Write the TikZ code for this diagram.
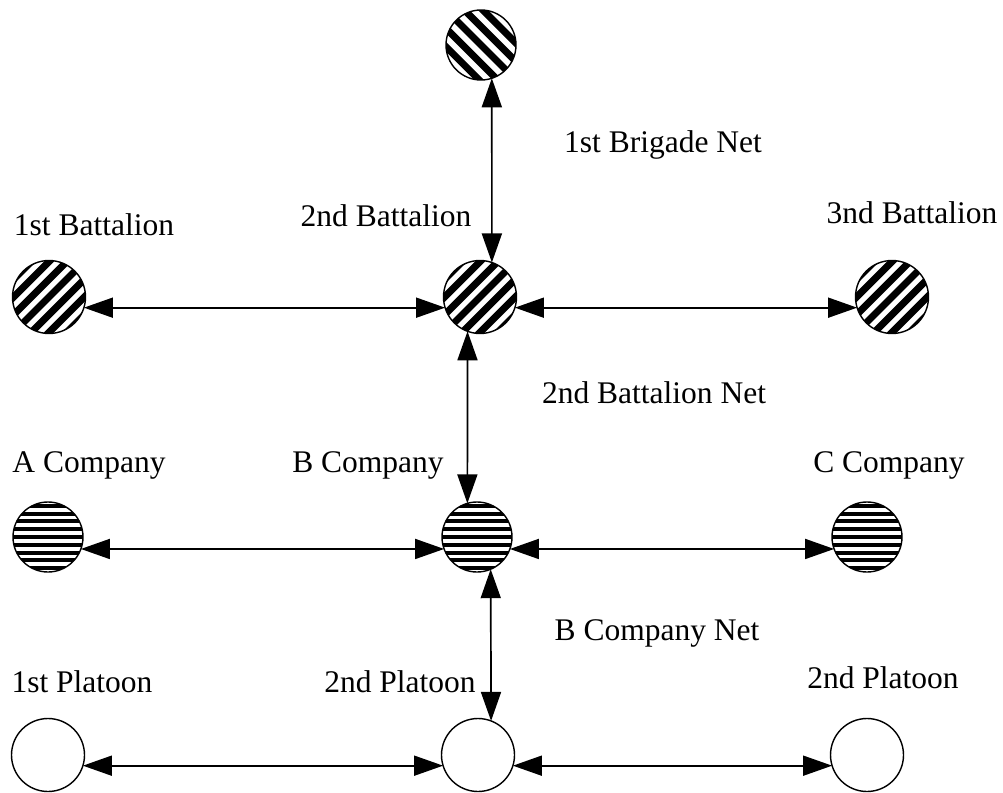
\documentclass[tikz,border=0pt]{standalone}
\usepackage{fontspec}
\setmainfont{Liberation Serif}
\usetikzlibrary{arrows.meta}
\begin{document}
\begin{tikzpicture}[x=1pt,y=-1pt,
  unit/.style={circle,draw,line width=1.4pt,minimum size=#1,inner sep=0pt,outer sep=0pt},
  brig/.style={unit=70pt, path picture={\foreach \k in {-5,...,5} \draw[line width=7pt] ([shift={(\k*9.2pt,\k*9.2pt)}]path picture bounding box.center) +(-60pt,60pt) -- +(60pt,-60pt);}},
  batt/.style={unit=73pt, path picture={\foreach \k in {-5,...,5} \draw[line width=7pt] ([shift={(\k*8.84pt,-\k*8.84pt)}]path picture bounding box.center) +(-60pt,-60pt) -- +(60pt,60pt);}},
  comp/.style={unit=70pt, path picture={\foreach \k in {-5,...,5} \draw[line width=4pt] ([shift={(0pt,\k*7.8pt)}]path picture bounding box.center) +(-60pt,0pt) -- +(60pt,0pt);}},
  plat/.style={unit=73pt},
  link/.style={{Triangle[length=29pt,width=20pt]}-{Triangle[length=29pt,width=20pt]}, line width=1.7pt},
  lbl/.style={anchor=base, inner sep=0pt, font=\fontsize{31.5}{36}\selectfont}]
\useasboundingbox (0,0) rectangle (1003,792);
% units
\node[brig] (brig) at (481,45) {};
\node[batt] (b1) at (49,297) {};
\node[batt] (b2) at (480,297) {};
\node[batt] (b3) at (892,297) {};
\node[comp] (c1) at (48,537) {};
\node[comp] (c2) at (477,537) {};
\node[comp] (c3) at (867,537) {};
\node[plat] (p1) at (48,755) {};
\node[plat] (p2) at (478,755) {};
\node[plat] (p3) at (867,755) {};
% connectors
\draw[link] (brig.-72) -- (b2.71);
\draw[link] (b2.-110.5) -- (c2.106.3);
\draw[link] (c2.-67) -- (p2.69.4);
\draw[link] (b1.-17) -- (b2.197);
\draw[link] (b2.-17) -- (b3.197);
\draw[link] (c1.-20) -- (c2.200);
\draw[link] (c2.-20) -- (c3.200);
\draw[link] (p1.-17) -- (p2.197);
\draw[link] (p2.-17) -- (p3.197);
% labels
\node[lbl] (t1) at (663,152) {1st Brigade Net};
\node[lbl] (t2) at (94,235) {1st Battalion};
\node[lbl] (t3) at (386,226) {2nd Battalion};
\node[lbl] (t4) at (912,223) {3nd Battalion};
\node[lbl] (t5) at (654,403) {2nd Battalion Net};
\node[lbl] (t6) at (89,472) {A Company};
\node[lbl] (t7) at (368,472) {B Company};
\node[lbl] (t8) at (889,472) {C Company};
\node[lbl] (t9) at (657,640) {B Company Net};
\node[lbl] (t10) at (82,692) {1st Platoon};
\node[lbl] (t11) at (400,692) {2nd Platoon};
\node[lbl] (t12) at (883,688) {2nd Platoon};
\end{tikzpicture}
\end{document}
